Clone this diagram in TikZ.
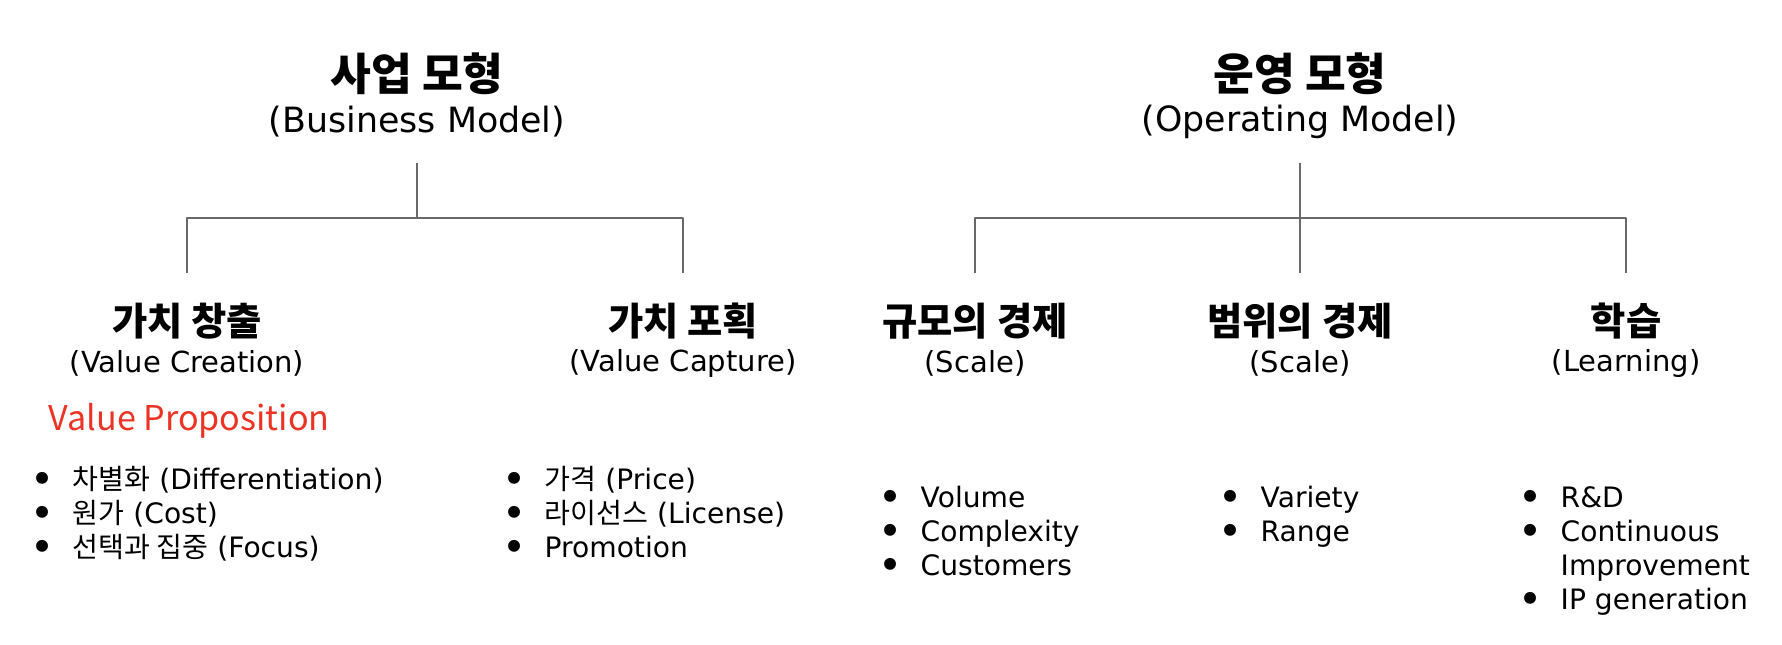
\documentclass[tikz,border=0pt]{standalone}
\usepackage{fontspec}
\setmainfont{DejaVu Sans}
\newfontfamily\kr{Noto Sans CJK KR}
\definecolor{treegray}{RGB}{105,105,105}
\definecolor{vpred}{RGB}{236,51,36}
\newcommand{\bul}{\llap{\raisebox{-1.2pt}{\scalebox{1.45}{\textbullet}}\hspace{0.18cm}}}
\tikzset{
	titlekr/.style={font={\fontsize{12.6}{14}\selectfont\kr\bfseries}},
	titleen/.style={font={\fontsize{9.9}{12}\selectfont}},
	headkr/.style={font={\fontsize{10.9}{12}\selectfont\kr\bfseries}},
	headen/.style={font={\fontsize{8.25}{10}\selectfont}},
	listitem/.style={anchor=base west, inner sep=0pt, font={\fontsize{8}{10}\selectfont}},
	treeline/.style={draw=treegray, line width=0.7pt},
}
\begin{document}
\begin{tikzpicture}[x=0.01cm, y=-0.01cm, line join=round]
	\useasboundingbox (0,0) rectangle (1782,644);
	% business model
	\node[titlekr] (bm) at (417,74) {사업 모형};
	\node[titleen] (bmen) at (417,122) {(Business Model)};
	\coordinate (bmTop) at (417,163);
	\coordinate (bmFork) at (417,218);
	\coordinate (vcTop) at (187,273);
	\coordinate (vkTop) at (683,273);
	\draw[treeline] (bmTop) -- (bmFork);
	\draw[treeline] (vcTop) |- (bmFork) -| (vkTop);
	% operating model
	\node[titlekr] (om) at (1300,74) {운영 모형};
	\node[titleen] (omen) at (1300,122) {(Operating Model)};
	\coordinate (omTop) at (1300,163);
	\coordinate (omFork) at (1300,218);
	\coordinate (esTop) at (975,273);
	\coordinate (epTop) at (1300,273);
	\coordinate (lnTop) at (1626,273);
	\draw[treeline] (omTop) -- (epTop);
	\draw[treeline] (esTop) |- (omFork) -| (lnTop);
	% second level
	\node[headkr] (vc) at (187,321) {가치 창출};
	\node[headen] (vcen) at (187,363) {(Value Creation)};
	\node[headkr] (vk) at (683,321) {가치 포획};
	\node[headen] (vken) at (683,363) {(Value Capture)};
	\node[headkr] (es) at (975,321) {규모의 경제};
	\node[headen] (esen) at (975,363) {(Scale)};
	\node[headkr] (ep) at (1300,321) {범위의 경제};
	\node[headen] (epen) at (1300,363) {(Scale)};
	\node[headkr] (ln) at (1626,321) {학습};
	\node[headen] (lnen) at (1626,363) {(Learning)};
	\node[anchor=base west, inner sep=0pt, text=vpred, font={\fontsize{9.7}{12}\selectfont\kr}] (vp) at (48,430) {Value Proposition};
	% lists
	\foreach \txt [count=\i] in {{{\kr 차별화} (Differentiation)}, {{\kr 원가} (Cost)}, {{\kr 선택과 집중} (Focus)}}
		\node[listitem] (vc\i) at (72,{489+34*(\i-1)}) {\bul\txt};
	\foreach \txt [count=\i] in {{{\kr 가격} (Price)}, {{\kr 라이선스} (License)}, Promotion}
		\node[listitem] (vk\i) at (544,{489+34*(\i-1)}) {\bul\txt};
	\foreach \txt [count=\i] in {Volume, Complexity, Customers}
		\node[listitem] (es\i) at (920,{507+34*(\i-1)}) {\bul\txt};
	\foreach \txt [count=\i] in {Variety, Range}
		\node[listitem] (ep\i) at (1260,{507+34*(\i-1)}) {\bul\txt};
	\node[listitem] (ln1) at (1560,507) {\bul R\&D};
	\node[listitem] (ln2) at (1560,541) {\bul Continuous};
	\node[listitem] (ln2b) at (1560,575) {Improvement};
	\node[listitem] (ln3) at (1560,609) {\bul IP generation};
\end{tikzpicture}
\end{document}
